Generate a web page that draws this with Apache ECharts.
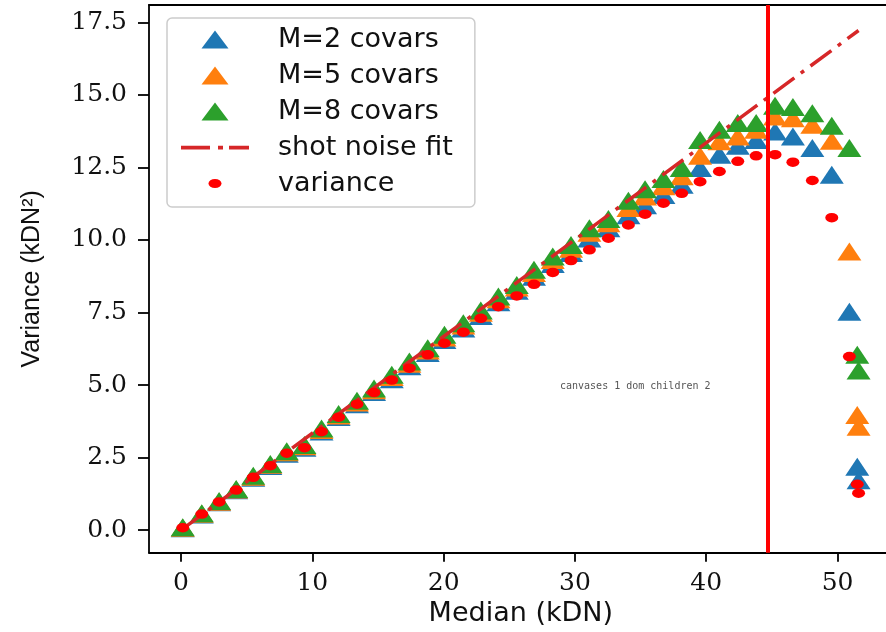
<!DOCTYPE html>
<html>
<head>
<meta charset="utf-8">
<script src="https://cdn.jsdelivr.net/npm/echarts@6.0.0/dist/echarts.min.js"></script>
<style>
html,body{margin:0;padding:0;background:#fff;overflow:hidden;}
#chart{width:910px;height:632px;}
#dbg{position:absolute;left:560px;top:380px;width:300px;font:10px monospace;color:#555;white-space:pre-wrap;}
</style>
</head>
<body>
<div id="chart"></div>
<div id="dbg"></div>
<script>
// ---- data ----
const medians = [0.13, 1.58, 2.9, 4.2, 5.5, 6.8, 8.05, 9.4, 10.7, 12.0, 13.4, 14.7, 16.05,
  17.39, 18.79, 20.06, 21.5, 22.83, 24.17, 25.57, 26.88, 28.31, 29.7, 31.1, 32.55, 34.07,
  35.34, 36.74, 38.13, 39.53, 41.0, 42.4, 43.8, 45.24, 46.6, 48.08, 49.56, 50.9, 51.5, 51.6];

const varM2 = [0.06, 0.54, 0.96, 1.37, 1.8, 2.21, 2.63, 2.84, 3.4, 3.9, 4.34, 4.76, 5.2,
  5.65, 6.1, 6.55, 6.95, 7.38, 7.85, 8.25, 8.73, 9.17, 9.55, 10.05, 10.4, 10.85,
  11.2, 11.55, 11.9, 12.48, 12.94, 13.25, 13.45, 13.74, 13.57, 13.17, 12.25, 7.53, 2.18, 1.72];

const varM5 = [0.08, 0.56, 0.98, 1.4, 1.84, 2.25, 2.68, 2.89, 3.45, 3.95, 4.4, 4.82, 5.28,
  5.73, 6.19, 6.64, 7.05, 7.49, 7.96, 8.36, 8.86, 9.31, 9.7, 10.25, 10.58, 11.1,
  11.5, 11.85, 12.2, 12.9, 13.4, 13.57, 13.8, 14.26, 14.2, 13.97, 13.42, 9.6, 3.97, 3.56];

const varM8 = [0.1, 0.58, 1.0, 1.42, 1.87, 2.28, 2.72, 2.93, 3.5, 4.0, 4.46, 4.88, 5.35,
  5.81, 6.27, 6.73, 7.13, 7.57, 8.05, 8.45, 8.97, 9.43, 9.83, 10.4, 10.72, 11.35,
  11.75, 12.1, 12.48, 13.45, 13.8, 14.03, 14.03, 14.63, 14.58, 14.37, 13.94, 13.17, 6.04, 5.5];

const variance = [0.08, 0.55, 0.97, 1.38, 1.82, 2.22, 2.65, 2.84, 3.39, 3.89, 4.34, 4.74, 5.17,
  5.58, 6.04, 6.44, 6.82, 7.3, 7.7, 8.07, 8.47, 8.88, 9.29, 9.66, 10.06, 10.52,
  10.89, 11.27, 11.61, 12.01, 12.36, 12.71, 12.9, 12.94, 12.68, 12.05, 10.77, 5.98, 1.58, 1.27];

const fitX = [0, 51.6];
const fitY = [0, 17.22];

const saturationX = 44.7;

const xTicks = [0, 10, 20, 30, 40, 50];
const yTicks = [0, 2.5, 5, 7.5, 10, 12.5, 15, 17.5];

const seriesNames = ['M=2 covars', 'M=5 covars', 'M=8 covars', 'shot noise fit', 'variance'];

// ---- chart ----
const pair = (xs, ys) => xs.map((x, i) => [x, ys[i]]);

const triIcon = 'path://M13.5,0L27,18L0,18Z';
const dotIcon = 'path://M0,0M27,18M7,9A6.5,4.5 0 1 0 20,9A6.5,4.5 0 1 0 7,9Z';
const dashDotIcon = 'path://M0,0M68,18M0,7.3h29v3.6h-29zM37,7.3h5v3.6h-5zM48,7.3h20v3.6h-20z';

const tickFont = 'DejaVu Serif';
const sansFont = 'DejaVu Sans';
const legendFontSize = 27;
const xMin = -2.44, xMax = 54.2;

const chart = echarts.init(document.getElementById('chart'), null, {renderer: 'canvas'});

const triSeries = (name, data, color) => ({
  name: name,
  type: 'scatter',
  data: data,
  symbol: 'triangle',
  symbolSize: [24, 18],
  itemStyle: {color: color, opacity: 1},
  emphasis: {disabled: true},
  z: 2
});

chart.setOption({
  animation: false,
  grid: {
    left: 149, top: 5, width: 743.7, height: 547.7,
    outerBoundsMode: 'none', containLabel: false, show: false
  },
  xAxis: [{
    type: 'value', min: xMin, max: xMax,
    axisLine: {show: true, onZero: false, lineStyle: {color: '#000', width: 1.8}},
    axisTick: {show: true, customValues: xTicks, length: 9, lineStyle: {color: '#000', width: 1.8}},
    axisLabel: {customValues: xTicks, margin: 18, fontFamily: tickFont, fontSize: 25, color: '#111'},
    splitLine: {show: false},
    name: 'Median (kDN)', nameLocation: 'middle', nameGap: 46,
    nameTextStyle: {fontFamily: sansFont, fontSize: 27, color: '#111'}
  }, {
    type: 'value', position: 'top', min: xMin, max: xMax,
    axisLine: {show: true, onZero: false, lineStyle: {color: '#000', width: 1.8}},
    axisTick: {show: false}, axisLabel: {show: false}, splitLine: {show: false}
  }],
  yAxis: {
    type: 'value', min: -0.78, max: 18.1,
    axisLine: {show: true, onZero: false, lineStyle: {color: '#000', width: 1.8}},
    axisTick: {show: true, customValues: yTicks, length: 11, lineStyle: {color: '#000', width: 1.8}},
    axisLabel: {customValues: yTicks, margin: 22, fontFamily: tickFont, fontSize: 25, color: '#111',
      formatter: v => v.toFixed(1)},
    splitLine: {show: false},
    name: 'Variance (kDN²)', nameLocation: 'middle', nameGap: 104, nameRotate: 90,
    nameTextStyle: {fontFamily: 'Liberation Sans Narrow, Liberation Sans', fontSize: 25, color: '#111'}
  },
  legend: {
    orient: 'vertical', left: 167, top: 18,
    padding: [8, 22, 10, 14], itemGap: 36 - legendFontSize, itemWidth: 68, itemHeight: 18,
    backgroundColor: '#fff', borderColor: '#cccccc', borderWidth: 1.5, borderRadius: 5,
    selectedMode: false,
    data: [
      {name: seriesNames[0], icon: triIcon},
      {name: seriesNames[1], icon: triIcon},
      {name: seriesNames[2], icon: triIcon},
      {name: seriesNames[3], icon: dashDotIcon, itemStyle: {color: '#d62728', borderWidth: 0}},
      {name: seriesNames[4], icon: dotIcon}
    ],
    formatter: n => '{t|' + n + '}',
    textStyle: {
      color: '#111',
      rich: {t: {fontFamily: sansFont, fontSize: legendFontSize, padding: [0, 0, 0, 24], color: '#111'}}
    }
  },
  series: [
    triSeries(seriesNames[0], pair(medians, varM2), '#1f77b4'),
    triSeries(seriesNames[1], pair(medians, varM5), '#ff7f0e'),
    triSeries(seriesNames[2], pair(medians, varM8), '#2ca02c'),
    {
      name: seriesNames[3], type: 'line', data: pair(fitX, fitY),
      symbol: 'none', showSymbol: false,
      itemStyle: {color: '#d62728'},
      lineStyle: {color: '#d62728', width: 3.5, type: [26, 8, 4, 8], cap: 'butt'},
      emphasis: {disabled: true}, z: 3
    },
    {
      name: seriesNames[4], type: 'scatter', data: pair(medians, variance),
      symbol: 'circle', symbolSize: [13, 9.5],
      itemStyle: {color: '#ff0000', opacity: 1},
      emphasis: {disabled: true}, z: 4,
      markLine: {
        silent: true, symbol: 'none', animation: false,
        label: {show: false},
        lineStyle: {color: '#ff0000', width: 4, type: 'solid'},
        data: [{xAxis: saturationX}]
      }
    }
  ]
});

// diagnostic: list drawn elements that reach the right edge
let out = [];
out.push('canvases ' + document.querySelectorAll('canvas').length + ' dom children ' + document.getElementById('chart').querySelectorAll('*').length);
chart.getZr().storage.getDisplayList(true).forEach(el => {
  let r;
  try { r = el.getBoundingRect(); } catch (e) { return; }
  const tr = el.getComputedTransform ? el.getComputedTransform() : el.transform;
  let x = r.x, w = r.width, h = r.height;
  if (tr) { x = x * tr[0] + tr[4]; w = w * tr[0]; h = h * tr[3]; }
  if (x + w > 870 && x < 895 && Math.abs(h) > 60) {
    let p = el.parent, chain = [];
    while (p && chain.length < 4) { chain.push(p.type + ':' + (p.name || '')); p = p.parent; }
    out.push(el.type + ' x' + x.toFixed(0) + ' w' + w.toFixed(0) + ' h' + h.toFixed(0) + ' s' + (el.style && el.style.stroke) + ' zl' + el.zlevel + ' ' + chain.join('<'));
  }
});
document.getElementById('dbg').textContent = out.join('\n');
</script>
</body>
</html>
